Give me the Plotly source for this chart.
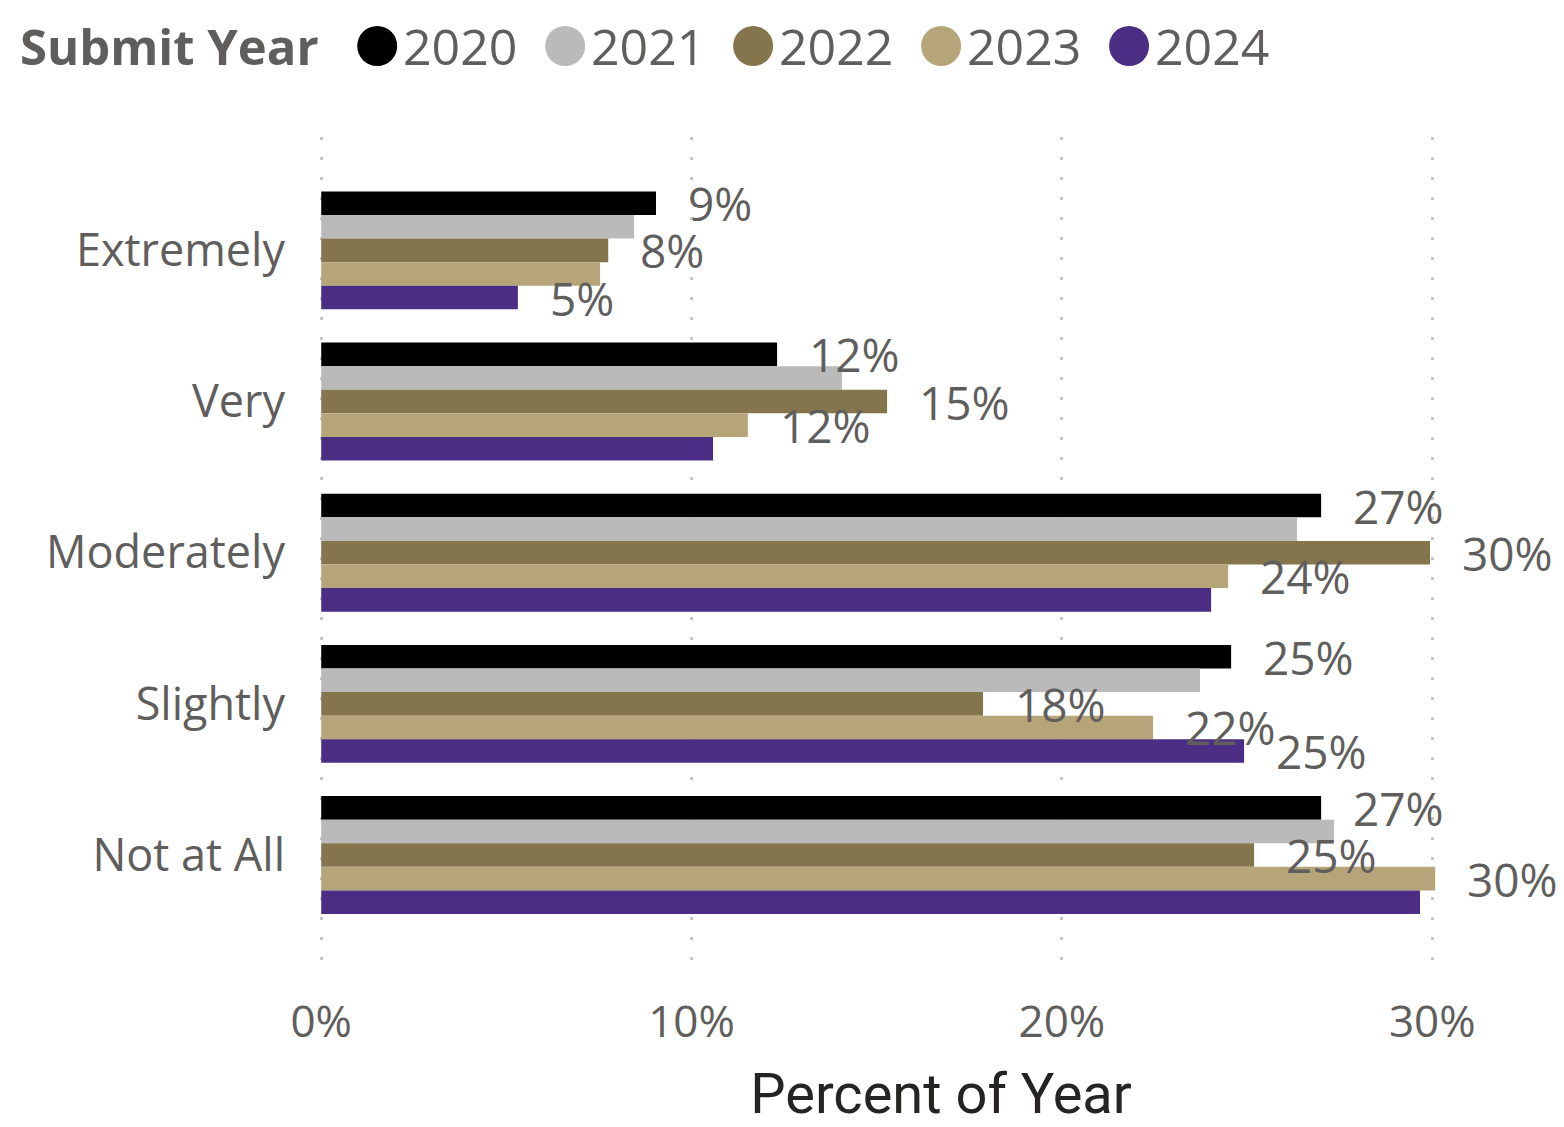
import plotly.graph_objects as go

# ---------------- data ----------------
categories = ["Extremely", "Very", "Moderately", "Slightly", "Not at All"]
years = ["2020", "2021", "2022", "2023", "2024"]

values_2020 = [9.04, 12.31, 27.00, 24.57, 27.00]
values_2021 = [8.45, 14.06, 26.35, 23.73, 27.35]
values_2022 = [7.75, 15.28, 29.94, 17.87, 25.19]
values_2023 = [7.53, 11.52, 24.49, 22.46, 30.08]
values_2024 = [5.31, 10.58, 24.03, 24.92, 29.67]

# which data labels are visible (overlapping ones are hidden in the original)
labels_2020 = [True, True, True, True, True]
labels_2021 = [False, False, False, False, False]
labels_2022 = [True, True, True, True, True]
labels_2023 = [False, True, True, True, True]
labels_2024 = [True, False, False, True, False]

x_ticks = [0, 10, 20, 30]
x_tick_labels = ["0%", "10%", "20%", "30%"]

series_values = [values_2020, values_2021, values_2022, values_2023, values_2024]
series_labels = [labels_2020, labels_2021, labels_2022, labels_2023, labels_2024]
colors = ["#000000", "#BABABA", "#85754D", "#B7A57A", "#4B2E83"]

# ---------------- style ----------------
TEXT_GRAY = "#605E5C"
FONT = "Open Sans"
W, H = 1564, 1127
PX_PER_PCT = 37.04
X0_PAD = 0.06                       # small pad so the 0% gridline is drawn
ML, MR, MT, MB = 321 - X0_PAD * PX_PER_PCT, 1, 137, 151
BARGAP = 0.22

fig = go.Figure()
for yr, vals, col in zip(years, series_values, colors):
    fig.add_trace(go.Bar(
        name=yr, y=categories, x=vals, orientation="h",
        marker=dict(color=col, line=dict(width=0)),
        showlegend=False, hoverinfo="x+y+name",
    ))

# data labels (outside end) as annotations aligned to each bar of the group
n = len(years)
slot = (1 - BARGAP) / n
annotations = []
for i, (vals, shown) in enumerate(zip(series_values, series_labels)):
    off = -(1 - BARGAP) / 2 + (i + 0.5) * slot
    for j, (v, s) in enumerate(zip(vals, shown)):
        if not s:
            continue
        annotations.append(dict(
            x=v, y=j + off, xref="x", yref="y",
            text=f"{round(v):.0f}%", showarrow=False,
            xanchor="left", yanchor="middle", xshift=30, yshift=0,
            font=dict(family=FONT, size=46, color=TEXT_GRAY),
        ))

# custom legend (large circle markers as in the original)
pw = W - ML - MR
ph = H - MT - MB
def px2paper_x(px):
    return (px - ML) / pw
def px2paper_y(py):
    return (H - MB - py) / ph

leg_y = px2paper_y(46)
annotations.append(dict(
    x=px2paper_x(18), y=leg_y, xref="paper", yref="paper",
    text="<b>Submit Year</b>", showarrow=False, xanchor="left", yanchor="middle",
    font=dict(family=FONT, size=49, color=TEXT_GRAY),
))
shapes = []
for i, (yr, col) in enumerate(zip(years, colors)):
    cx = 377 + 188 * i
    shapes.append(dict(
        type="circle", xref="paper", yref="paper",
        xsizemode="pixel", ysizemode="pixel",
        xanchor=px2paper_x(cx), yanchor=leg_y,
        x0=-20, x1=20, y0=-20, y1=20,
        fillcolor=col, line=dict(width=0),
    ))
    annotations.append(dict(
        x=px2paper_x(cx + 24), y=leg_y, xref="paper", yref="paper",
        text=yr, showarrow=False, xanchor="left", yanchor="middle",
        font=dict(family=FONT, size=50, color=TEXT_GRAY),
    ))

fig.update_layout(
    width=W, height=H,
    margin=dict(l=ML, r=MR, t=MT, b=MB, autoexpand=False),
    paper_bgcolor="white", plot_bgcolor="white",
    barmode="group", bargap=BARGAP, bargroupgap=0,
    showlegend=False,
    annotations=annotations, shapes=shapes,
    xaxis=dict(
        range=[-X0_PAD, -X0_PAD + (W - MR - ML) / PX_PER_PCT],
        tickmode="array", tickvals=x_ticks, ticktext=x_tick_labels,
        showgrid=True, gridcolor="#C8C6C4", gridwidth=3, griddash="3px,17px",
        zeroline=False, showline=False, ticks="",
        tickfont=dict(family=FONT, size=44, color=TEXT_GRAY),
        ticklabelstandoff=16,
        title=dict(text="Percent of Year", standoff=29,
                   font=dict(family="Roboto", size=56, color="#252423")),
    ),
    yaxis=dict(
        type="category", categoryorder="array", categoryarray=categories,
        range=[4.8, -0.75],
        showgrid=False, zeroline=False, showline=False, ticks="",
        tickfont=dict(family=FONT, size=45, color=TEXT_GRAY),
        ticklabelstandoff=33,
    ),
)

fig.write_html(
    "out.html",
    config={"displayModeBar": False},
    post_script="document.body.style.margin='0';document.body.style.overflow='hidden';",
)
